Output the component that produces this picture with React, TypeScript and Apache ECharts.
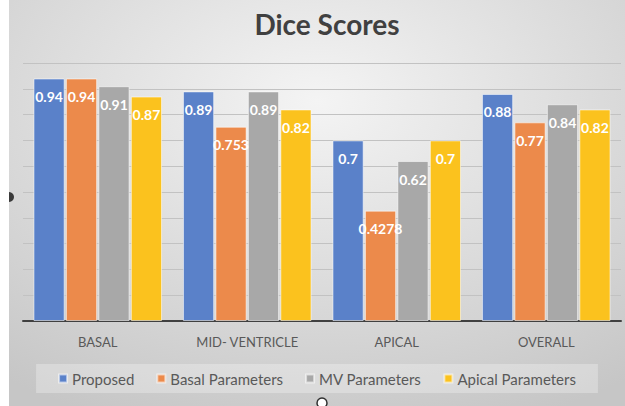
import React, { useEffect, useRef } from "react";
import * as echarts from "echarts";

const categories = ["BASAL", "MID- VENTRICLE", "APICAL", "OVERALL"];
const seriesNames = ["Proposed", "Basal Parameters", "MV Parameters", "Apical Parameters"];
const proposed = [0.94, 0.89, 0.7, 0.88];
const basalParams = [0.94, 0.753, 0.4278, 0.77];
const mvParams = [0.91, 0.89, 0.62, 0.84];
const apicalParams = [0.87, 0.82, 0.7, 0.82];
const colors = ["#5A81C9", "#EC8A4B", "#A8A8A8", "#FBC21E"];

export default function App() {
  const ref = useRef<HTMLDivElement>(null);
  useEffect(() => {
    if (!ref.current) return;
    const chart = echarts.init(ref.current, null, { renderer: "svg" });
    const data = [proposed, basalParams, mvParams, apicalParams];
    chart.setOption({
      animation: false,
      backgroundColor: {
        type: "radial",
        x: 0.5,
        y: 0.25,
        r: 0.85,
        colorStops: [
          { offset: 0, color: "#f4f4f4" },
          { offset: 1, color: "#c6c6c6" },
        ],
      },
      textStyle: { fontFamily: "Lato, 'Open Sans', sans-serif" },
      title: {
        text: "Dice Scores",
        left: 313,
        textAlign: "center",
        top: 5,
        textStyle: { fontSize: 28, fontWeight: "bold", color: "#404040", fontFamily: "Lato, sans-serif" },
      },
      grid: { left: 14, right: 4, top: 63, bottom: 85, containLabel: false },
      xAxis: {
        type: "category",
        data: categories,
        axisLine: { lineStyle: { color: "#404040", width: 2 } },
        axisTick: { show: false },
        axisLabel: { color: "#595959", fontSize: 13, margin: 14 },
      },
      yAxis: {
        type: "value",
        min: 0,
        max: 1,
        interval: 0.1,
        axisLabel: { show: false },
        axisLine: { show: false },
        axisTick: { show: false },
        splitLine: { lineStyle: { color: "#c2c2c2", width: 1 } },
      },
      legend: {
        data: seriesNames,
        left: "center",
        top: 364,
        padding: [7, 22],
        backgroundColor: "rgba(255,255,255,0.28)",
        icon: "rect",
        itemWidth: 8,
        itemHeight: 8,
        itemGap: 22,
        textStyle: { color: "#595959", fontSize: 15 },
      },
      graphic: [
        { type: "circle", shape: { cx: 0, cy: 197, r: 5 }, style: { fill: "#3a3a3a" } },
        { type: "circle", shape: { cx: 313, cy: 403, r: 5 }, style: { fill: "#ffffff", stroke: "#333", lineWidth: 1.5 } },
      ],
      series: seriesNames.map((name, i) => ({
        name,
        type: "bar",
        data: data[i],
        barCategoryGap: "14%",
        barGap: "4%",
        itemStyle: { color: colors[i], borderColor: "rgba(255,255,255,0.55)", borderWidth: 1 },
        label: {
          show: true,
          position: "insideTop",
          distance: 11,
          color: "#ffffff",
          fontWeight: "bold",
          fontSize: 14,
        },
      })),
    });
    return () => chart.dispose();
  }, []);
  return (
    <div style={{ position: "fixed", left: 0, top: 0, width: 625, height: 406, background: "#ffffff" }}>
      <div ref={ref} style={{ position: "absolute", left: 9, top: 0, width: 616, height: 406 }} />
    </div>
  );
}
